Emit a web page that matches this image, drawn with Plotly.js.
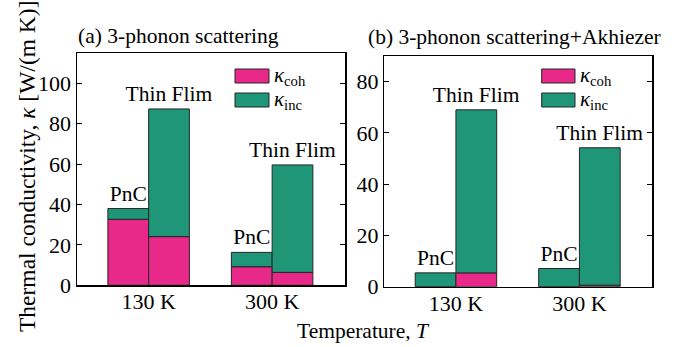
<!DOCTYPE html>
<html><head><meta charset="utf-8">
<script src="https://cdn.plot.ly/plotly-3.0.1.min.js"></script>
<style>html,body{margin:0;padding:0;background:#fff}#c{width:681px;height:347px}</style>
</head><body><div id="c"></div>
<script>
const categories = ['130 K', '300 K'];
const barLabels = ['PnC', 'Thin Flim'];
// panel (a) 3-phonon scattering
const aPncCoh = [32.7, 9.2];
const aPncInc = [5.3, 7.1];
const aTfCoh = [24.1, 6.4];
const aTfInc = [63.2, 53.2];
// panel (b) 3-phonon scattering + Akhiezer
const bPncCoh = [0, 0];
const bPncInc = [5.4, 7.1];
const bTfCoh = [5.4, 0.6];
const bTfInc = [63.6, 53.6];

const PINK = '#E8298A', GREEN = '#1F9677', EDGE = '#262626';
const FONT = 'Liberation Serif';

function bars(coh, inc, group, label, xa, ya) {
  const line = {color: EDGE, width: 1};
  return [
    {type: 'bar', x: categories, y: coh, offsetgroup: group, xaxis: xa, yaxis: ya,
     marker: {color: PINK, line: line}, showlegend: false, hoverinfo: 'skip'},
    {type: 'bar', x: categories, y: inc, base: coh, offsetgroup: group, xaxis: xa, yaxis: ya,
     marker: {color: GREEN, line: line}, showlegend: false, hoverinfo: 'skip',
     text: categories.map(() => label), textposition: 'outside', constraintext: 'none',
     cliponaxis: false, outsidetextfont: {family: FONT, size: 21.5, color: '#000'},
     textfont: {family: FONT, size: 21.5, color: '#000'}}
  ];
}

const data = [
  ...bars(aPncCoh, aPncInc, 'pnc', barLabels[0], 'x', 'y'),
  ...bars(aTfCoh, aTfInc, 'tf', barLabels[1], 'x', 'y'),
  ...bars(bPncCoh, bPncInc, 'pnc', barLabels[0], 'x2', 'y2'),
  ...bars(bTfCoh, bTfInc, 'tf', barLabels[1], 'x2', 'y2'),
];

const xBase = {type: 'category', range: [-0.58, 1.59], showline: true, mirror: true,
  linecolor: '#000', linewidth: 1.5, ticks: '', showgrid: false, zeroline: false,
  tickfont: {family: FONT, size: 22, color: '#000'}, ticklabelstandoff: -4, fixedrange: true};
const yBase = {showline: true, mirror: 'ticks', linecolor: '#000', linewidth: 1.5,
  ticks: 'inside', ticklen: 5, tickcolor: '#000', showgrid: false, zeroline: false,
  tickfont: {family: FONT, size: 22, color: '#000'}, fixedrange: true};

function legend(x0, x1, xt) {
  const s = [], a = [];
  [[PINK, 76, 'coh'], [GREEN, 100, 'inc']].forEach(([c, yc, sub]) => {
    s.push({type: 'rect', xref: 'paper', yref: 'paper', x0: x0 / 681, x1: x1 / 681,
      y0: 1 - (yc + 7) / 347, y1: 1 - (yc - 7) / 347, fillcolor: c, line: {color: EDGE, width: 1}});
    a.push({xref: 'paper', yref: 'paper', x: xt / 681, y: 1 - yc / 347, xanchor: 'left', yanchor: 'middle',
      showarrow: false, text: '<i>κ</i><sub>' + sub + '</sub>', font: {family: FONT, size: 21, color: '#000'}});
  });
  return [s, a];
}
const [s1, a1] = legend(235, 269, 272);
const [s2, a2] = legend(541.7, 575, 578);

const layout = {
  width: 681, height: 347, margin: {l: 0, r: 0, t: 0, b: 0},
  font: {family: FONT, color: '#000'},
  paper_bgcolor: '#fff', plot_bgcolor: '#fff', barmode: 'group', bargap: 0.34, bargroupgap: 0,
  showlegend: false,
  xaxis: Object.assign({}, xBase, {domain: [77 / 681, 345 / 681], anchor: 'y'}),
  yaxis: Object.assign({}, yBase, {domain: [1 - 285.3 / 347, 1 - 53 / 347], range: [0, 115], dtick: 20, anchor: 'x'}),
  xaxis2: Object.assign({}, xBase, {domain: [384.3 / 681, 652.3 / 681], anchor: 'y2'}),
  yaxis2: Object.assign({}, yBase, {domain: [1 - 286.7 / 347, 1 - 56 / 347], range: [0, 90], dtick: 20, anchor: 'x2'}),
  shapes: [...s1, ...s2],
  annotations: [
    ...a1, ...a2,
    {xref: 'paper', yref: 'paper', x: 76 / 681, y: 1 - 36 / 347, xanchor: 'left', yanchor: 'middle', showarrow: false,
     text: '(a) 3-phonon scattering', font: {family: FONT, size: 21.5, color: '#000'}},
    {xref: 'paper', yref: 'paper', x: 366 / 681, y: 1 - 37 / 347, xanchor: 'left', yanchor: 'middle', showarrow: false,
     text: '(b) 3-phonon scattering+Akhiezer', font: {family: FONT, size: 21.5, color: '#000'}},
    {xref: 'paper', yref: 'paper', x: 27 / 681, y: 1 - 167 / 347, xanchor: 'center', yanchor: 'middle', showarrow: false,
     textangle: -90, text: 'Thermal conductivity, <i>κ</i> [W/(m K)]', font: {family: FONT, size: 23.5, color: '#000'}},
    {xref: 'paper', yref: 'paper', x: 363 / 681, y: 1 - 331 / 347, xanchor: 'center', yanchor: 'middle', showarrow: false,
     text: 'Temperature, <i>T</i>', font: {family: FONT, size: 21.5, color: '#000'}}
  ]
};
Plotly.newPlot('c', data, layout, {displayModeBar: false, staticPlot: true});
</script></body></html>
